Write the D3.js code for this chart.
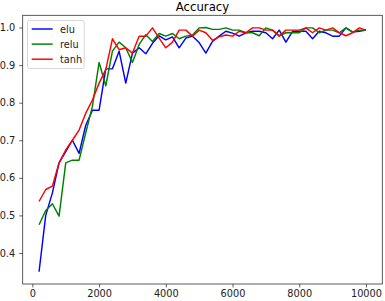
<!DOCTYPE html>
<html>
<head>
    <meta charset='utf-8'>
</head>
<style>
    body { margin: 0; background: #fff; }
    text { font-family: 'DejaVu Sans', sans-serif; }
</style>
<body>
    <svg width="385" height="301"></svg>
    <script src="https://d3js.org/d3.v7.min.js"></script>
    <script>
        // training steps (every 200)
        var steps = d3.range(200, 10001, 200);
        var elu = [0.35, 0.50, 0.56, 0.64, 0.67, 0.70, 0.665, 0.74, 0.78, 0.78,
            0.89, 0.89, 0.937, 0.852, 0.932, 0.946, 0.93, 0.958, 0.978, 0.967,
            0.975, 0.946, 0.972, 0.977, 0.96, 0.932, 0.963, 0.977, 0.99, 0.985,
            0.977, 0.986, 0.99, 0.99, 0.986, 0.97, 0.993, 0.961, 0.99, 0.99,
            0.99, 0.97, 0.99, 0.986, 0.977, 0.977, 0.999, 0.988, 0.99, 0.993];
        var relu = [0.475, 0.513, 0.531, 0.498, 0.64, 0.647, 0.647, 0.72, 0.79, 0.907,
            0.845, 0.937, 0.961, 0.946, 0.907, 0.955, 0.981, 0.963, 0.984, 0.977,
            0.984, 0.97, 0.977, 0.98, 0.999, 1.0, 0.995, 0.995, 0.999, 0.993,
            0.993, 0.986, 0.986, 0.978, 0.999, 0.993, 0.978, 0.986, 0.986, 0.986,
            0.999, 0.999, 0.986, 0.993, 0.993, 0.986, 0.999, 0.988, 0.993, 0.993];
        var tanh = [0.537, 0.569, 0.578, 0.64, 0.674, 0.70, 0.727, 0.772, 0.807, 0.852,
            0.888, 0.97, 0.941, 0.946, 0.932, 0.977, 0.977, 0.999, 0.972, 0.946,
            0.961, 0.993, 0.993, 0.977, 0.993, 0.986, 0.966, 0.975, 0.98, 0.977,
            0.99, 0.986, 0.999, 0.999, 0.993, 0.993, 0.977, 0.993, 0.993, 0.993,
            0.999, 0.986, 0.999, 0.993, 0.999, 0.986, 0.978, 0.986, 0.999, 0.993];
        var seriesNames = ["elu", "relu", "tanh"];
        var seriesColors = ["#0000ff", "#008000", "#ff0000"];
        var xTicks = [0, 2000, 4000, 6000, 8000, 10000];
        var yTicks = [0.4, 0.5, 0.6, 0.7, 0.8, 0.9, 1.0];

        var series = [elu, relu, tanh];
        var svg = d3.select('svg');
        var plotL = 22.7, plotR = 382.3, plotT = 15.3, plotB = 284;

        var x = d3.scaleLinear().domain([-290, 10490]).range([plotL, plotR]);
        var y = d3.scaleLinear().domain([0.3175, 1.0325]).range([plotB, plotT]);

        // axes
        var xAxis = svg.append('g')
            .attr('transform', 'translate(0,' + plotB + ')')
            .call(d3.axisBottom(x).tickValues(xTicks).tickSize(3.4).tickPadding(3).tickFormat(d3.format('d')));
        var yAxis = svg.append('g')
            .attr('transform', 'translate(' + plotL + ',0)')
            .call(d3.axisLeft(y).tickValues(yTicks).tickSize(3.4).tickPadding(4).tickFormat(d3.format('.1f')));
        [xAxis, yAxis].forEach(function(a) {
            a.select('.domain').remove();
            a.selectAll('line').attr('stroke', '#333').attr('stroke-width', 0.8);
            a.selectAll('text').attr('fill', '#222').style('font-size', '9.75px');
        });

        // lines
        var line = d3.line()
            .x(function(d, i) { return x(steps[i]); })
            .y(function(d) { return y(d); });
        series.forEach(function(s, k) {
            svg.append('path')
                .datum(s)
                .attr('d', line)
                .attr('fill', 'none')
                .attr('stroke', seriesColors[k])
                .attr('stroke-width', 1.45)
                .attr('stroke-linejoin', 'round');
        });

        // frame
        svg.append('rect')
            .attr('x', plotL).attr('y', plotT)
            .attr('width', plotR - plotL).attr('height', plotB - plotT)
            .attr('fill', 'none').attr('stroke', '#333').attr('stroke-width', 0.8);

        // title
        svg.append('text')
            .attr('x', (plotL + plotR) / 2).attr('y', 11)
            .attr('text-anchor', 'middle')
            .style('font-size', '11.7px')
            .text('Accuracy');

        // legend
        var lg = svg.append('g');
        lg.append('rect')
            .attr('x', 27.5).attr('y', 20.5).attr('width', 56.7).attr('height', 48)
            .attr('rx', 2).attr('fill', 'rgba(255,255,255,0.8)')
            .attr('stroke', '#ccc').attr('stroke-width', 0.8);
        seriesNames.forEach(function(n, k) {
            var yy = 29 + k * 15.1;
            lg.append('line')
                .attr('x1', 31.7).attr('x2', 52.7).attr('y1', yy).attr('y2', yy)
                .attr('stroke', seriesColors[k]).attr('stroke-width', 1.45);
            lg.append('text')
                .attr('x', 60).attr('y', yy + 3.5)
                .style('font-size', '9.75px').attr('fill', '#222')
                .text(n);
        });
    </script>
</body>
</html>
